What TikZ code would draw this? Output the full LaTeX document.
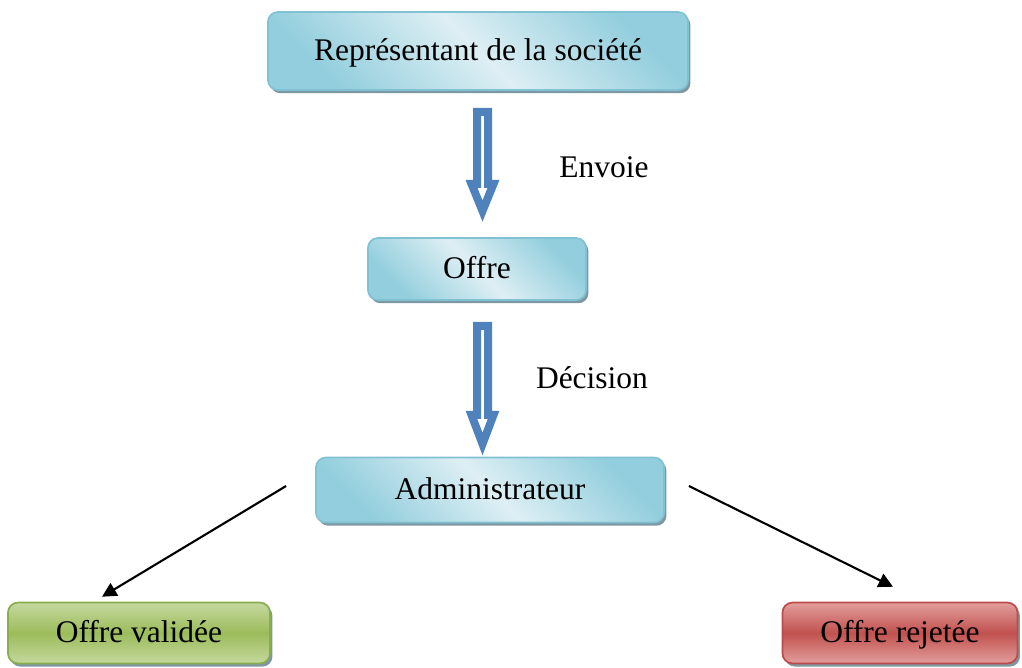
\documentclass[tikz,border=0pt]{standalone}
\usepackage{fontspec}
\setmainfont{Liberation Serif}
\usetikzlibrary{calc,shadows,arrows.meta}

\definecolor{boxlight}{RGB}{222,239,244}
\definecolor{boxdark}{RGB}{146,206,221}
\definecolor{boxedge}{RGB}{128,194,211}
\definecolor{shadowc}{RGB}{125,152,162}
\definecolor{greenlight}{RGB}{197,216,158}
\definecolor{greenmid}{RGB}{156,188,91}
\definecolor{greenedge}{RGB}{137,172,78}
\definecolor{redlight}{RGB}{226,158,156}
\definecolor{redmid}{RGB}{193,82,79}
\definecolor{rededge}{RGB}{188,76,73}
\definecolor{arrowblue}{RGB}{79,129,189}

\tikzset{
  stepnode/.style={rounded corners=0.25cm, line width=1.2pt,
    drop shadow={shadow xshift=0.06cm, shadow yshift=-0.08cm, fill=shadowc, opacity=1},
    font=\fontsize{22.4}{27}\selectfont, inner sep=0pt, text height=16pt, text depth=3pt},
  bluebox/.style={stepnode, draw=boxedge,
    left color=boxdark, right color=boxdark, middle color=boxlight, shading angle=-45},
  greenbox/.style={stepnode, draw=greenedge,
    top color=greenlight, bottom color=greenlight, middle color=greenmid},
  redbox/.style={stepnode, draw=rededge,
    top color=redlight, bottom color=redlight, middle color=redmid},
  bigarrow/.style={draw=arrowblue, line width=0.2cm, fill=white, line join=miter},
  conn/.style={line width=1.5pt, -{Triangle[length=0.36cm,width=0.36cm]}},
  lbl/.style={font=\fontsize{22.4}{27}\selectfont}
}

\begin{document}
\begin{tikzpicture}[x=0.025cm,y=-0.025cm]
\useasboundingbox (0,0) rectangle (1022,668);

\node[bluebox, minimum width=10.5cm, minimum height=1.95cm] (rep) at (478,51) {Représentant de la société};
\node[bluebox, minimum width=5.45cm, minimum height=1.55cm] (offre) at (477,269) {Offre};
\node[bluebox, minimum width=8.7cm, minimum height=1.625cm] (admin) at (490,490) {Administrateur};
\node[greenbox, minimum width=6.55cm, minimum height=1.52cm] (valid) at (139,633) {Offre validée};
\node[redbox, minimum width=5.875cm, minimum height=1.52cm] (rejet) at (900,633) {Offre rejetée};

% hollow arrows
\coordinate (a1) at ($(rep.south)!0.5!(offre.north)+(5,-52)$);
\coordinate (b1) at (482.5,211);
\draw[bigarrow] ($(a1)+(-5.5,0)$) -- ($(b1)+(-5.5,-27)$) -- ($(b1)+(-11,-27)$) -- (b1)
  -- ($(b1)+(11,-27)$) -- ($(b1)+(5.5,-27)$) -- ($(a1)+(5.5,0)$) -- cycle;
\node[lbl] (envoie) at (604,167) {Envoie};

\coordinate (a2) at (482.5,326);
\coordinate (b2) at (482.5,444);
\draw[bigarrow] ($(a2)+(-5.5,0)$) -- ($(b2)+(-5.5,-29)$) -- ($(b2)+(-11,-29)$) -- (b2)
  -- ($(b2)+(11,-29)$) -- ($(b2)+(5.5,-29)$) -- ($(a2)+(5.5,0)$) -- cycle;
\node[lbl] (decision) at (592,378) {Décision};

% outcomes
\draw[conn] ($(admin.west)+(-29,-4)$) -- ($(valid.north)+(-37,-5)$);
\draw[conn] ($(admin.east)+(24,-4)$) -- ($(rejet.north)+(-7,-15)$);
\end{tikzpicture}
\end{document}
